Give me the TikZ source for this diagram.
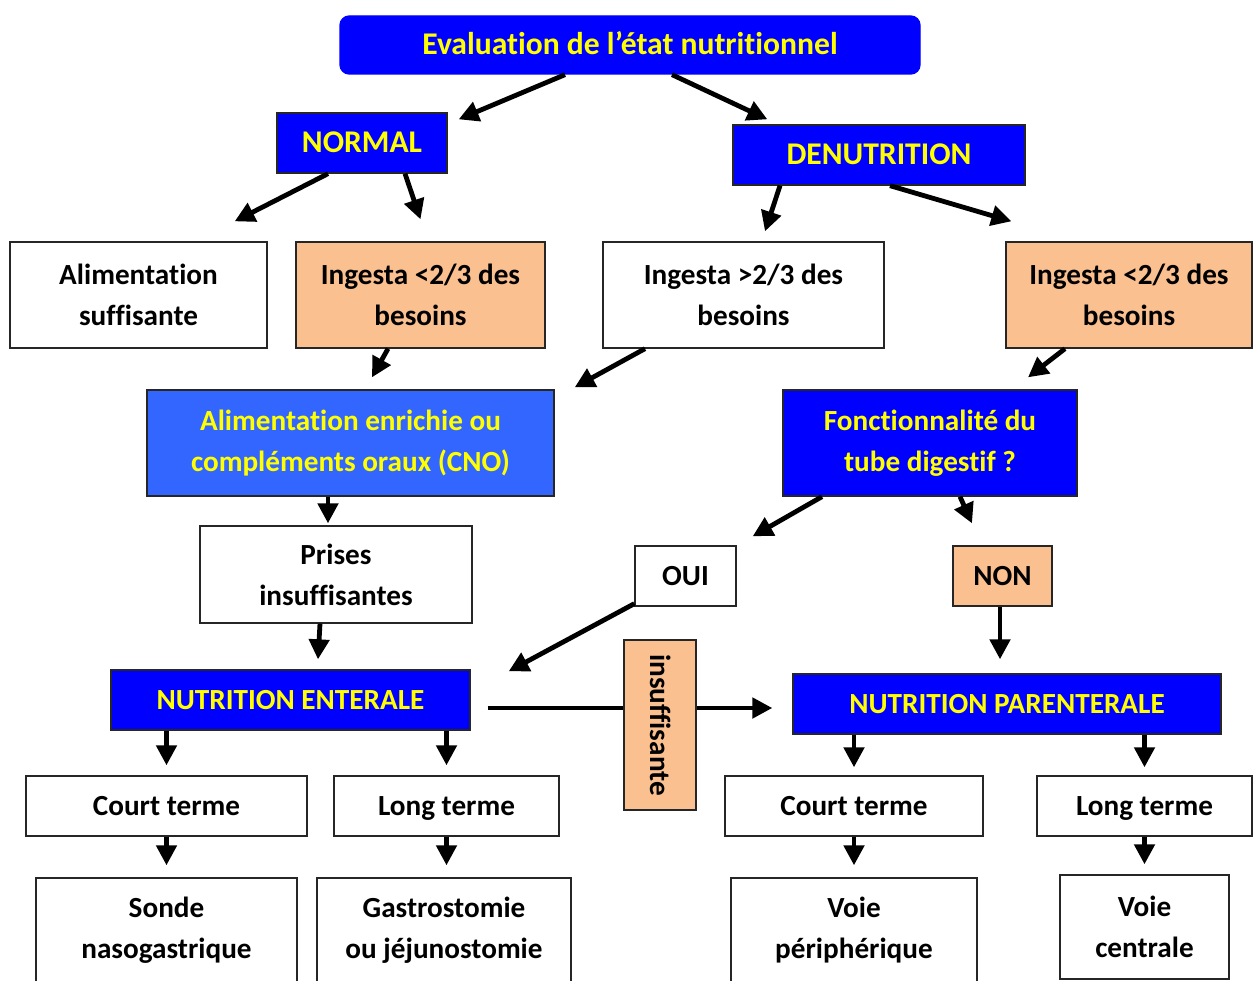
\documentclass[tikz,border=0pt]{standalone}
\usepackage{fontspec}
\setmainfont{Carlito}[Ligatures=NoCommon]
\usepackage{tikz}
\usetikzlibrary{arrows.meta,calc}

\definecolor{deep_blue}{RGB}{0,0,255}
\definecolor{light_blue}{RGB}{51,102,255}
\definecolor{peach}{RGB}{250,192,144}
\definecolor{label_yellow}{RGB}{255,255,0}

\begin{document}
\begin{tikzpicture}[x=0.75pt,y=-0.75pt,
    dims/.style 2 args={minimum width=#1*0.75pt,minimum height=#2*0.75pt},
    base_node/.style={draw=black!85,line width=1pt,inner sep=0pt,align=center,font=\bfseries\fontsize{21.9}{30.75}\selectfont},
    one_line/.style={text height=17.5pt,text depth=3.5pt},
    big_text/.style={font=\bfseries\fontsize{23.7}{30.75}\selectfont},
    blue_node/.style={base_node,fill=deep_blue,text=label_yellow},
    white_node/.style={base_node,fill=white,text=black},
    peach_node/.style={base_node,fill=peach,text=black},
    main_arrow/.style={line width=3.6pt,-{Triangle[length=15pt,width=15pt]}}]
    \useasboundingbox (0,0) rectangle (1253,981);
    % top of the tree
    \node[blue_node,big_text,one_line,draw=deep_blue,dims={580}{58},rounded corners=7pt] (eval) at (630,45) {Evaluation de l’état nutritionnel};
    \node[blue_node,big_text,one_line,dims={170}{60}] (normal) at (362,143) {NORMAL};
    \node[blue_node,big_text,one_line,dims={292}{60}] (denut) at (879,155) {DENUTRITION};
    \node[white_node,dims={257}{106}] (alim_suff) at (138.5,295) {Alimentation\\suffisante};
    \node[peach_node,dims={249}{106}] (ing_l) at (420.5,295) {Ingesta <2/3 des\\besoins};
    \node[white_node,dims={281}{106}] (ing_sup) at (743.5,295) {Ingesta >2/3 des\\besoins};
    \node[peach_node,dims={246}{106}] (ing_r) at (1129,295) {Ingesta <2/3 des\\besoins};
    \node[blue_node,fill=light_blue,dims={407}{106}] (alim_enr) at (350.5,443) {Alimentation enrichie ou\\compléments oraux (CNO)};
    \node[blue_node,dims={294}{106}] (fonct) at (930,443) {Fonctionnalité du\\tube digestif ?};
    \node[white_node,dims={272}{97}] (prises) at (336,574.5) {Prises\\insuffisantes};
    \node[white_node,one_line,dims={101}{60}] (oui) at (685.5,576) {OUI};
    \node[peach_node,one_line,dims={99}{60}] (non) at (1002.5,576) {NON};
    % the two ways of feeding
    \node[blue_node,one_line,dims={359}{60}] (ne) at (290.5,700) {NUTRITION ENTERALE};
    \node[blue_node,one_line,dims={428}{60}] (np) at (1007,704) {NUTRITION PARENTERALE};
    \draw[main_arrow] ($(ne.east)+(17,8)$) -- ($(np.west)+(-20,4)$);
    \node[peach_node,one_line,dims={170}{72},rotate=-90] (insuf) at (660,725) {insuffisante};
    \node[white_node,one_line,dims={281}{60}] (court_l) at (166.5,806) {Court terme};
    \node[white_node,one_line,dims={225}{60}] (long_l) at (446.5,806) {Long terme};
    \node[white_node,one_line,dims={258}{60}] (court_r) at (854,806) {Court terme};
    \node[white_node,one_line,dims={215}{60}] (long_r) at (1144.5,806) {Long terme};
    \node[white_node,dims={261}{104}] (sonde) at (166.5,930) {Sonde\\nasogastrique};
    \node[white_node,dims={254}{104}] (gastro) at (444,930) {Gastrostomie\\ou jéjunostomie};
    \node[white_node,dims={246}{104}] (voie_p) at (854,930) {Voie\\périphérique};
    \node[white_node,dims={169}{104}] (voie_c) at (1144.5,927) {Voie\\centrale};
    % arrows
    \draw[main_arrow] ($(eval.south)+(-65,0)$) -- ($(normal.north east)+(11,7)$);
    \draw[main_arrow] ($(eval.south)+(42,0)$) -- ($(denut.north west)+(35,-5)$);
    \draw[main_arrow] ($(normal.south)+(-34,0)$) -- ($(alim_suff.north east)+(-33,-20)$);
    \draw[main_arrow] ($(normal.south)+(43,0)$) -- ($(ing_l.north)+(0,-22)$);
    \draw[main_arrow] ($(denut.south)+(-99,0)$) -- ($(ing_sup.north)+(21.5,-10)$);
    \draw[main_arrow] ($(denut.south)+(11,0)$) -- ($(ing_r.north west)+(6,-20)$);
    \draw[main_arrow] ($(ing_l.south)+(-32.5,0)$) -- ($(alim_enr.north)+(21.5,-12)$);
    \draw[main_arrow] ($(ing_sup.south)+(-98.5,0)$) -- ($(alim_enr.north east)+(20,-2)$);
    \draw[main_arrow] ($(ing_r.south)+(-64,0)$) -- ($(fonct.north)+(98,-12)$);
    \draw[main_arrow] ($(alim_enr.south)+(-22.5,0)$) -- ($(prises.north)+(-8,-2)$);
    \draw[main_arrow] ($(fonct.south)+(-108,0)$) -- ($(oui.north east)+(16,-9)$);
    \draw[main_arrow] ($(fonct.south)+(30,0)$) -- ($(non.north)+(-30.5,-22)$);
    \draw[main_arrow] ($(prises.south)+(-16,0)$) -- ($(ne.north)+(27.5,-10)$);
    \draw[main_arrow] ($(oui.south west)+(0,-3)$) -- ($(ne.north east)+(38,2)$);
    \draw[main_arrow] ($(non.south)+(-2.5,0)$) -- ($(np.north)+(-7,-14)$);
    \draw[main_arrow] (ne.south -| court_l.north) -- ($(court_l.north)+(0,-10)$);
    \draw[main_arrow] (ne.south -| long_l.north) -- ($(long_l.north)+(0,-10)$);
    \draw[main_arrow] (np.south -| court_r.north) -- ($(court_r.north)+(0,-8)$);
    \draw[main_arrow] (np.south -| long_r.north) -- ($(long_r.north)+(0,-8)$);
    \draw[main_arrow] (court_l.south) -- ($(sonde.north)+(0,-12)$);
    \draw[main_arrow] (long_l.south) -- ($(long_l.south |- gastro.north)+(0,-12)$);
    \draw[main_arrow] (court_r.south) -- ($(voie_p.north)+(0,-12)$);
    \draw[main_arrow] (long_r.south) -- ($(voie_c.north)+(0,-10)$);
\end{tikzpicture}
\end{document}
